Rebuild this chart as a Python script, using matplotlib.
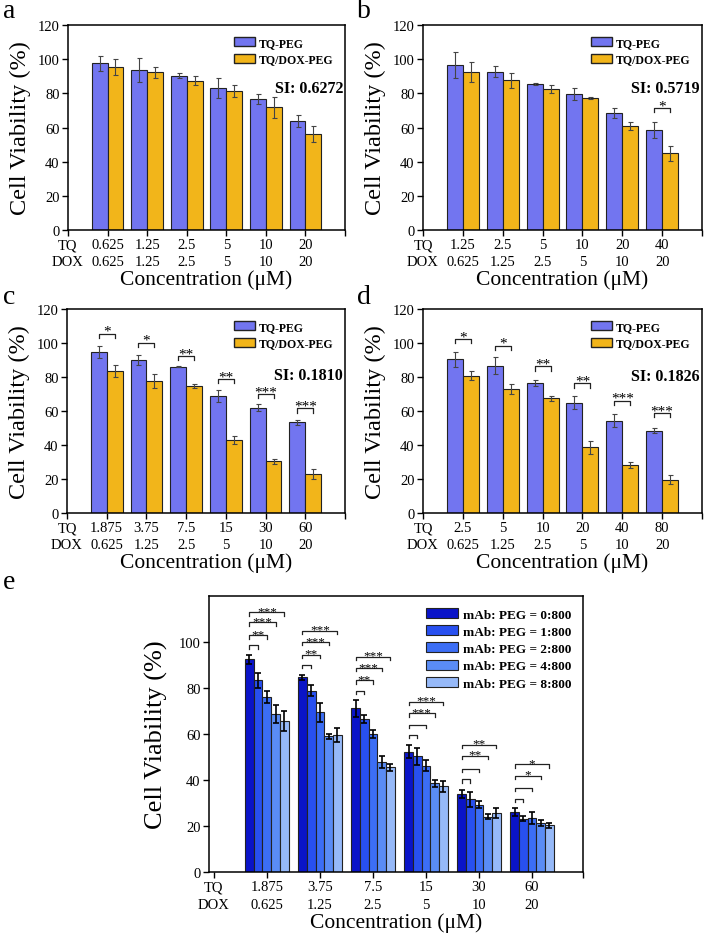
import matplotlib
matplotlib.use("Agg")
import matplotlib.pyplot as plt
from matplotlib.patches import Patch
import numpy as np

plt.rcParams['font.family'] = ['Liberation Serif', 'DejaVu Serif']

c_blue = '#7275f0'
c_yellow = '#f2b51a'
e_colors = ['#0a14c8', '#2850f0', '#3c6ef5', '#5a8cf5', '#96b9f8']

# ------------------------------------------------------------------
# data
# ------------------------------------------------------------------
dox_conc = ['0.625', '1.25', '2.5', '5', '10', '20']
tq_a = ['0.625', '1.25', '2.5', '5', '10', '20']
tq_b = ['1.25', '2.5', '5', '10', '20', '40']
tq_c = ['1.875', '3.75', '7.5', '15', '30', '60']
tq_d = ['2.5', '5', '10', '20', '40', '80']
tq_e = ['1.875', '3.75', '7.5', '15', '30', '60']

a_tq = [97.5, 93.6, 90.3, 83.1, 76.6, 63.9]
a_tq_err = [4.6, 6.8, 1.5, 5.6, 2.9, 3.5]
a_dox = [95.6, 92.4, 87.4, 81.3, 71.9, 56.1]
a_dox_err = [4.6, 3.2, 2.5, 3.6, 6.1, 4.7]

b_tq = [96.5, 92.6, 85.6, 79.5, 68.6, 58.4]
b_tq_err = [7.8, 3.2, 0.5, 3.5, 3.0, 4.6]
b_dox = [92.6, 87.6, 82.5, 77.4, 60.8, 44.8]
b_dox_err = [5.7, 4.5, 2.2, 0.6, 2.5, 4.5]

c_tq = [94.7, 89.8, 86.1, 68.6, 61.9, 53.5]
c_tq_err = [3.7, 3.0, 0.4, 3.5, 2.0, 1.5]
c_dox = [83.4, 77.7, 74.8, 43.0, 30.3, 22.9]
c_dox_err = [3.4, 4.1, 1.3, 2.5, 1.2, 2.8]

d_tq = [90.4, 86.5, 76.7, 64.9, 54.3, 48.4]
d_tq_err = [4.6, 5.0, 1.8, 3.7, 3.7, 1.5]
d_dox = [80.8, 72.9, 67.5, 38.6, 28.2, 19.6]
d_dox_err = [2.5, 3.0, 1.6, 3.7, 1.9, 2.7]

si_values = ['SI: 0.6272', 'SI: 0.5719', 'SI: 0.1810', 'SI: 0.1826']

# significance brackets (height of line, label)
b_sig_h = [None, None, None, None, None, 71.3]
b_sig = ['', '', '', '', '', '*']
c_sig_h = [105.5, 100.2, 92.4, 78.7, 69.9, 61.5]
c_sig = ['*', '*', '**', '**', '***', '***']
d_sig_h = [102.4, 98.4, 86.3, 76.3, 66.0, 58.8]
d_sig = ['*', '*', '**', '**', '***', '***']

# panel e: five mAb:PEG ratios
e_labels = ['mAb: PEG = 0:800', 'mAb: PEG = 1:800', 'mAb: PEG = 2:800',
            'mAb: PEG = 4:800', 'mAb: PEG = 8:800']
e_vals = [
    [92.4, 84.6, 71.2, 52.3, 33.8, 26.1],
    [83.3, 78.9, 66.5, 50.3, 31.6, 23.2],
    [76.1, 69.5, 60.0, 46.2, 29.3, 23.5],
    [68.7, 59.0, 47.9, 38.6, 24.1, 21.2],
    [65.8, 59.6, 45.5, 37.2, 25.8, 20.3],
]
e_errs = [
    [2.0, 1.1, 3.7, 2.8, 1.8, 1.9],
    [3.3, 2.5, 1.8, 3.8, 3.2, 1.2],
    [2.7, 4.1, 1.7, 2.5, 1.6, 2.7],
    [3.9, 1.1, 2.7, 1.5, 1.1, 1.3],
    [4.4, 3.1, 1.5, 2.2, 2.2, 1.2],
]
# brackets from ratio 0:800 to 1..4, line heights per group
e_sig_h = [
    [98.5, 103.0, 108.5, 113.0],
    [90.1, 94.5, 100.0, 104.8],
    [78.9, 83.3, 88.7, 93.6],
    [59.6, 64.1, 69.0, 74.1],
    [40.4, 45.0, 50.5, 55.3],
    [31.9, 36.7, 41.8, 46.9],
]
e_sig = [
    ['', '**', '***', '***'],
    ['', '**', '***', '***'],
    ['', '**', '***', '***'],
    ['', '', '***', '***'],
    ['', '', '**', '**'],
    ['', '', '*', '*'],
]

W, H = 709, 945
fig = plt.figure(figsize=(W / 100, H / 100), dpi=100)


def box(l, r, t, b):
    return [l / W, 1 - b / H, (r - l) / W, (b - t) / H]


def letter(x, y, s):
    fig.text(x / W, 1 - y / H, s, fontsize=20, ha='left', va='center')


def style_axis(ax, lab_size=17.5):
    ax.set_ylim(0, 120)
    ax.set_yticks(np.arange(0, 121, 20))
    ax.tick_params(axis='both', direction='out', length=4, width=1, labelsize=10.5, pad=2)
    for s in ax.spines.values():
        s.set_linewidth(1.1)
    ax.set_ylabel('Cell Viability (%)', fontsize=lab_size, labelpad=5)
    ax.set_xlabel('Concentration (μM)', fontsize=15.5, labelpad=1)


def two_bar_panel(rect, tq, v1, e1, v2, e2, si, si_y, sig_h=None, sig=None):
    ax = fig.add_axes(rect)
    x = np.arange(1, 7)
    w = 0.4
    ek = dict(ecolor='#444444', elinewidth=0.8, capsize=1.8, capthick=0.8)
    ax.bar(x - w / 2, v1, w, yerr=e1, color=c_blue, edgecolor='#222222', linewidth=0.8,
           error_kw=ek, label='TQ-PEG')
    ax.bar(x + w / 2, v2, w, yerr=e2, color=c_yellow, edgecolor='#222222', linewidth=0.8,
           error_kw=ek, label='TQ/DOX-PEG')
    ax.set_xlim(0, 7)
    ax.set_xticks(np.arange(0, 8))
    ax.set_xticklabels(['TQ\nDOX'] + [f'{t}\n{d}' for t, d in zip(tq, dox_conc)] + [''])
    for lb in ax.get_xticklabels():
        lb.set_linespacing(1.35)
    style_axis(ax)
    if sig_h is not None:
        for i, (h, s) in enumerate(zip(sig_h, sig)):
            if h is None:
                continue
            xl, xr = x[i] - w / 2, x[i] + w / 2
            ax.plot([xl, xl, xr, xr], [h - 2.5, h, h, h - 2.5], color='#222222', lw=0.9)
            ax.annotate(s, xy=((xl + xr) / 2, h), xytext=(0, -3), textcoords='offset points',
                        ha='center', va='bottom', fontsize=11)
    ax.text(6.95, si_y, si, ha='right', va='center', fontsize=11.5, fontweight='bold')
    handles = [Patch(facecolor=c_blue, edgecolor='#222222', label='TQ-PEG'),
               Patch(facecolor=c_yellow, edgecolor='#222222', label='TQ/DOX-PEG')]
    ax.legend(handles=handles, loc='upper right', frameon=False,
              prop={'weight': 'bold', 'size': 8.5}, handlelength=1.8, handleheight=0.75,
              handletextpad=0.3, labelspacing=0.4, borderaxespad=0.6)
    return ax


two_bar_panel(box(68, 345, 26, 231), tq_a, a_tq, a_tq_err, a_dox, a_dox_err,
              si_values[0], 82.9)
two_bar_panel(box(423, 702, 26, 231), tq_b, b_tq, b_tq_err, b_dox, b_dox_err,
              si_values[1], 83.4, b_sig_h, b_sig)
two_bar_panel(box(67, 345, 310, 514), tq_c, c_tq, c_tq_err, c_dox, c_dox_err,
              si_values[2], 80.9, c_sig_h, c_sig)
two_bar_panel(box(423, 702, 310, 514), tq_d, d_tq, d_tq_err, d_dox, d_dox_err,
              si_values[3], 80.4, d_sig_h, d_sig)
letter(3, 12, 'a')
letter(357, 12, 'b')
letter(3, 297, 'c')
letter(357, 297, 'd')
letter(3, 583, 'e')

# ------------------------------------------------------------------
# panel e
# ------------------------------------------------------------------
ax = fig.add_axes(box(209, 583, 597, 873))
x = np.arange(1, 7)
w = 0.164
for k in range(5):
    ax.bar(x + (k - 2) * w, e_vals[k], w, yerr=e_errs[k], color=e_colors[k],
           edgecolor='#222222', linewidth=0.8,
           error_kw=dict(ecolor='black', elinewidth=1.2, capsize=2.2, capthick=1.2),
           label=e_labels[k])
for i in range(6):
    x0 = x[i] - 2 * w
    for k in range(4):
        h = e_sig_h[i][k]
        x1 = x[i] + (k - 1) * w
        ax.plot([x0, x0, x1, x1], [h - 1.5, h, h, h - 1.5], color='#222222', lw=0.9)
        if e_sig[i][k]:
            ax.annotate(e_sig[i][k], xy=((x0 + x1) / 2, h), xytext=(0, -3.5),
                        textcoords='offset points', ha='center', va='bottom', fontsize=9.5)
ax.set_xlim(-0.09, 6.96)
ax.set_xticks(list(np.arange(0, 7)) + [6.96])
ax.set_xticklabels(['TQ\nDOX'] + [f'{t}\n{d}' for t, d in zip(tq_e, dox_conc)] + [''])
for lb in ax.get_xticklabels():
    lb.set_linespacing(1.45)
ax.set_ylim(0, 120)
ax.set_yticks(np.arange(0, 101, 20))
ax.tick_params(axis='both', direction='out', length=4, width=1, labelsize=10.5, pad=2)
for s in ax.spines.values():
    s.set_linewidth(1.1)
ax.set_ylabel('Cell Viability (%)', fontsize=19, labelpad=8)
ax.set_xlabel('Concentration (μM)', fontsize=15.5, labelpad=1)
ax.legend(loc='upper right', frameon=False, prop={'weight': 'bold', 'size': 9.5},
          handlelength=2.4, handleheight=0.8, handletextpad=0.35, labelspacing=0.35,
          borderaxespad=0.5)

fig.savefig('out.png', dpi=100)
